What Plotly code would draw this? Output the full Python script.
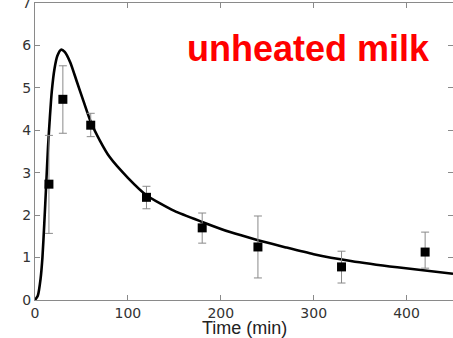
import plotly.graph_objects as go

# Measured data points
t_obs = [15, 30, 60, 120, 180, 240, 330, 420]
y_obs = [2.73, 4.73, 4.12, 2.42, 1.70, 1.25, 0.78, 1.13]
y_upper = [3.88, 5.52, 4.40, 2.68, 2.05, 1.98, 1.15, 1.60]
y_lower = [1.57, 3.93, 3.85, 2.15, 1.34, 0.52, 0.40, 0.75]

# Model curve
t_fit = [0, 3, 6, 8, 10, 12, 14, 16, 18, 21, 24, 28, 32, 38, 45, 52, 60, 70, 80,
         100, 120, 150, 180, 210, 240, 270, 300, 340, 390, 450]
y_fit = [0, 0.1, 0.5, 1.0, 1.8, 2.7, 3.6, 4.3, 4.9, 5.45, 5.75, 5.9, 5.85, 5.6, 5.15,
         4.7, 4.2, 3.75, 3.38, 2.88, 2.47, 2.1, 1.84, 1.6, 1.41, 1.24, 1.08, 0.92, 0.77, 0.62]

x_ticks = [0, 100, 200, 300, 400]
y_ticks = [0, 1, 2, 3, 4, 5, 6, 7]

err_plus = [u - m for u, m in zip(y_upper, y_obs)]
err_minus = [m - l for m, l in zip(y_obs, y_lower)]

fig = go.Figure()
fig.add_trace(go.Scatter(
    x=t_fit, y=y_fit, mode="lines",
    line=dict(color="black", width=2.6, shape="spline", smoothing=0.6),
    hoverinfo="skip", showlegend=False))
fig.add_trace(go.Scatter(
    x=t_obs, y=y_obs, mode="markers",
    marker=dict(symbol="square", size=9, color="black"),
    error_y=dict(type="data", array=err_plus, arrayminus=err_minus,
                 color="#8a8a8a", thickness=1, width=4),
    showlegend=False))

axis_common = dict(showline=True, linecolor="#8a8a8a", linewidth=1, mirror="ticks",
                   ticks="inside", ticklen=5, tickcolor="#8a8a8a", showgrid=False,
                   zeroline=False, automargin=False, ticklabeloverflow="allow",
                   tickfont=dict(family="DejaVu Sans", size=14, color="#333333"))

fig.update_xaxes(range=[0, 450], tickvals=x_ticks, ticktext=[str(v) for v in x_ticks],
                 ticklabelstandoff=0, **axis_common)
fig.update_yaxes(range=[0, 7], tickvals=y_ticks, ticktext=[str(v) for v in y_ticks],
                 ticklabelstandoff=0, **axis_common)

fig.add_annotation(text="Time (min)", xref="paper", yref="paper",
                   x=0.5, y=-0.095, xanchor="center", yanchor="middle", showarrow=False,
                   font=dict(family="Liberation Sans, Arial", size=18, color="#222222"))

fig.add_annotation(text="<b>unheated milk</b>", xref="paper", yref="paper",
                   x=0.655, y=0.848, xanchor="center", yanchor="middle", showarrow=False,
                   font=dict(family="Liberation Sans, Arial", size=36, color="#ff0000"))

fig.update_layout(width=453, height=338,
                  margin=dict(l=35, r=0, t=3, b=38, pad=0, autoexpand=False),
                  plot_bgcolor="white", paper_bgcolor="white")

fig.write_html("out.html", config={"displayModeBar": False},
               post_script="document.body.style.margin='0';document.body.style.padding='0';")
